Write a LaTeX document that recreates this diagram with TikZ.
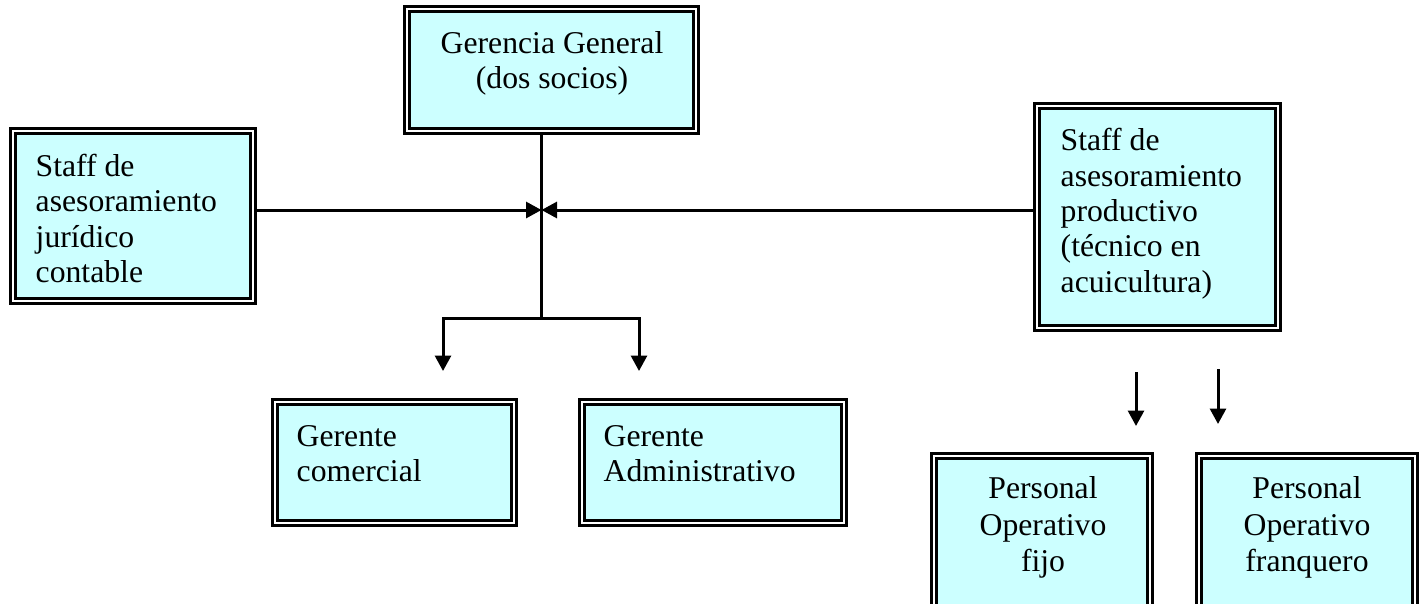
\documentclass[tikz,border=0pt]{standalone}
\usepackage{fontspec}
\setmainfont{Liberation Serif}
\usetikzlibrary{arrows.meta}
\definecolor{boxcyan}{HTML}{CCFFFF}
\tikzset{
  orgbox/.style={draw=black, fill=boxcyan, line width=2.8pt, double=white, double distance=2.2pt, inner sep=0pt, rectangle},
  txt/.style={inner sep=0pt, font=\fontsize{31.7}{35.3}\selectfont},
  txtp/.style={inner sep=0pt, align=center, font=\fontsize{31.7}{36.7}\selectfont},
  conn/.style={line width=3pt},
  arr/.style={line width=3pt, -{Triangle[width=16pt,length=15.5pt]}}
}
\begin{document}
\begin{tikzpicture}[x=1pt,y=-1pt]
\useasboundingbox (0,0) rectangle (1423,603);
\clip (0,0) rectangle (1423,603);
% boxes
\node[orgbox, minimum width=289.2pt, minimum height=122.2pt] (gg) at (551.5,70) {};
\node[orgbox, minimum width=240.2pt, minimum height=170.2pt] (sj) at (133,216) {};
\node[orgbox, minimum width=241.2pt, minimum height=222.2pt] (sp) at (1157.5,217) {};
\node[orgbox, minimum width=239.2pt, minimum height=121.2pt] (gc) at (394.5,462.5) {};
\node[orgbox, minimum width=262.2pt, minimum height=121.2pt] (ga) at (713,462.5) {};
\node[orgbox, minimum width=216.2pt, minimum height=152.2pt] (pf) at (1042,532) {};
\node[orgbox, minimum width=216.2pt, minimum height=152.2pt] (pq) at (1307,532) {};
% texts (anchored at the baseline of the last line)
\node[txt, align=center, anchor=base] (ggt) at (552,88.5) {Gerencia General\\(dos socios)};
\node[txt, align=left, anchor=base west] (sjt) at (35.5,282.5) {Staff de\\asesoramiento\\jurídico\\contable};
\node[txt, align=left, anchor=base west] (spt) at (1060.5,292) {Staff de\\asesoramiento\\productivo\\(técnico en\\acuicultura)};
\node[txt, align=left, anchor=base west] (gct) at (296.5,481.7) {Gerente\\comercial};
\node[txt, align=left, anchor=base west] (gat) at (603.5,481.7) {Gerente\\Administrativo};
\node[txtp, anchor=base] (pft) at (1043,571.7) {Personal\\Operativo\\fijo};
\node[txtp, anchor=base] (pqt) at (1307,571.7) {Personal\\Operativo\\franquero};
% connectors
\coordinate (hub) at (541.5,210);
\coordinate (branch) at (541.5,318);
\coordinate (ac) at (443,371);
\coordinate (aa) at (639,371);
\coordinate (f1s) at (1136,372);
\coordinate (f1e) at (1136,426);
\coordinate (f2s) at (1218,369);
\coordinate (f2e) at (1218,424);
\draw[conn] (hub |- gg.south) -- (branch);
\draw[arr] (sj.east |- hub) -- (hub);
\draw[arr] (sp.west |- hub) -- (hub);
\draw[arr] (branch) -| (ac);
\draw[arr] (branch) -| (aa);
\draw[arr] (f1s) -- (f1e);
\draw[arr] (f2s) -- (f2e);
\end{tikzpicture}
\end{document}
